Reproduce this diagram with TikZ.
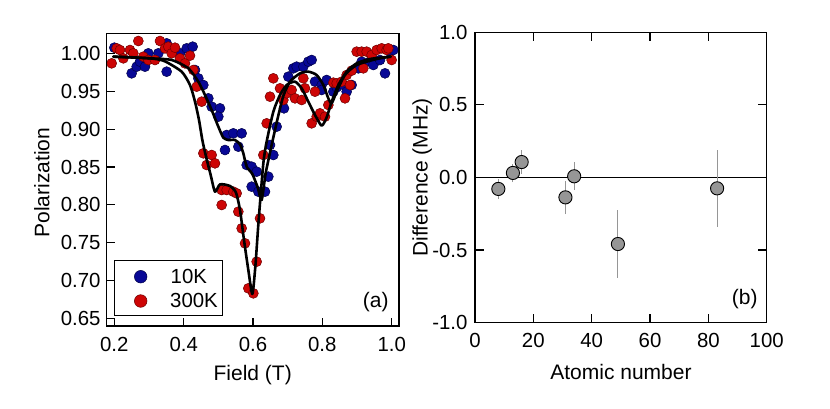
\documentclass[tikz,border=0pt]{standalone}
\usepackage{fontspec}
\setmainfont{Liberation Sans}
\definecolor{dotblue}{RGB}{8,8,150}
\definecolor{dotblueedge}{RGB}{0,0,70}
\definecolor{dotred}{RGB}{205,5,5}
\definecolor{dotrededge}{RGB}{110,0,0}
\definecolor{dotgray}{RGB}{150,150,150}
\begin{document}
\begin{tikzpicture}[x=1pt,y=-1pt,
  frame/.style={line width=1.1pt},
  tickline/.style={line width=1.1pt},
  lab/.style={font=\fontsize{20.4}{24}\selectfont, inner sep=0pt},
  axlab/.style={font=\fontsize{21}{25}\selectfont, inner sep=0pt},
  fitline/.style={line width=2.6pt, line join=round, line cap=round},
  bdot/.style={fill=dotblue, draw=dotblueedge, line width=0.5pt},
  rdot/.style={fill=dotred, draw=dotrededge, line width=0.5pt},
  gdot/.style={fill=dotgray, draw=black, line width=0.9pt},
  ebar/.style={draw=dotgray, line width=1pt}]
\useasboundingbox (0,0) rectangle (830,408);

% ---------------- panel (a) ----------------
\begin{scope}[x=0.333333pt,y=-0.333333pt]
\foreach \a/\b in {343/143, 395/220, 410/200, 420/185, 435/200, 445/160, 475/160, 500/215, 500/130, 520/150, 540/160, 560/145, 578/140, 585/210, 595/235, 610/255, 625/295, 635/320, 660/325, 655/350, 675/450, 680/405, 700/400, 725/400, 715/440, 740/495, 755/500, 770/515, 755/560, 775/575, 795/575, 805/530, 810/435, 820/465, 830/380, 852/325, 865/230, 880/205, 890/200, 910/200, 925/185, 935/180, 945/245, 965/255, 980/240, 965/270, 1000/275, 1010/262, 1030/255, 1040/275, 1055/255, 1075/205, 1085/185, 1110/185, 1120/195, 1140/180, 1155/220, 1170/155, 1180/150}
  \draw[bdot] (\a,\b) circle[radius=5pt];
\foreach \a/\b in {335/190, 350/145, 360/150, 370/175, 390/150, 400/160, 415/123, 430/170, 445/180, 465/180, 480/123, 495/145, 505/140, 515/160, 525/143, 540/175, 555/190, 570/167, 580/210, 590/260, 605/305, 610/460, 620/495, 635/465, 645/490, 665/570, 665/615, 680/570, 700/575, 710/580, 715/635, 725/685, 735/730, 745/865, 760/880, 770/785, 780/655, 790/465, 800/370, 810/290, 820/235, 840/265, 850/300, 860/280, 875/270, 885/295, 905/300, 910/235, 915/265, 935/370, 945/275, 950/350, 960/340, 975/350, 985/315, 1000/248, 1010/250, 1025/245, 1035/295, 1040/225, 1050/255, 1055/212, 1070/155, 1085/155, 1090/205, 1100/155, 1115/165, 1130/150, 1145/145, 1160/150, 1165/145, 1175/180}
  \draw[rdot] (\a,\b) circle[radius=5pt];
% fit 300K
\draw[fitline] plot[smooth,tension=0.4] coordinates {(340,170) (400,172) (460,176) (495,184) (545,215) (570,255) (585,305) (597,360) (607,420) (617,465) (632,525) (645,575) (660,553) (690,558) (708,578) (720,630) (732,720) (745,810) (757,882) (766,800) (776,660) (790,490) (800,425) (820,335) (840,285) (860,255) (885,245) (905,265) (925,305) (945,345) (965,377) (980,352) (995,305) (1015,255) (1040,215) (1070,190) (1110,177) (1172,170)};
% fit 10K
\draw[fitline] plot[smooth,tension=0.4] coordinates {(340,170) (450,175) (515,180) (565,205) (595,245) (615,285) (635,330) (655,380) (670,413) (685,420) (705,420) (720,433) (730,460) (740,500) (757,522) (773,562) (785,600) (797,520) (815,435) (833,355) (850,288) (870,245) (900,220) (925,215) (950,225) (970,255) (985,295) (995,310) (1010,275) (1035,225) (1070,195) (1130,177) (1172,170)};
\end{scope}

\draw[frame] (106.7,33.3) rectangle (399,326);
\foreach \x/\t in {114.3/0.2, 183.7/0.4, 253/0.6, 322.3/0.8, 391.7/1.0}{
  \draw[tickline] (\x,326) -- (\x,318);
  \node[lab,anchor=north] at (\x,336.7) {\t};
}
\foreach \y/\t in {53.3/1.00, 91.2/0.95, 129.1/0.90, 167/0.85, 204.9/0.80, 242.8/0.75, 280.7/0.70, 318.6/0.65}{
  \draw[tickline] (106.7,\y) -- (114.7,\y);
  \node[lab,anchor=east] at (100.7,\y) {\t};
}
% legend
\draw[line width=1pt, fill=white] (114,260.7) rectangle (222.7,315);
\draw[bdot] (140.7,276.7) circle[radius=6.3pt];
\draw[rdot] (140.7,301) circle[radius=6.3pt];
\node[lab,anchor=base west] (l1) at (170.5,283.5) {10K};
\node[lab,anchor=base west] (l2) at (170.0,307) {300K};
\node[axlab] (pa) at (375.8,301.7) {(a)};
\node[axlab,anchor=base] (xa) at (252.7,380) {Field (T)};
\node[axlab,rotate=90,anchor=base] (ya) at (49.3,182.8) {Polarization};

% ---------------- panel (b) ----------------
\draw[line width=1pt] (475,177.3) -- (766.7,177.3);
\begin{scope}[shift={(475pt,-177.3pt)}, x=2.917pt, y=145.35pt]
\foreach \z/\v/\e in {8/-0.08/0.07, 13/0.03/0.063, 16/0.105/0.08, 31/-0.138/0.115, 34/0.007/0.095, 49/-0.459/0.233, 83/-0.076/0.264}
  \draw[ebar] (\z,\v-\e) -- (\z,\v+\e);
\foreach \z/\v in {8/-0.08, 13/0.03, 16/0.105, 31/-0.138, 34/0.007, 49/-0.459, 83/-0.076}
  \draw[gdot] (\z,\v) circle[radius=6.6pt];
\end{scope}
\draw[frame] (475,32.3) rectangle (766.7,322.7);
\foreach \x in {533.3, 591.7, 650, 708.4}{
  \draw[tickline] (\x,32.3) -- (\x,40.8);
  \draw[tickline] (\x,322.7) -- (\x,314.2);
}
\foreach \y in {104.6, 250}{
  \draw[tickline] (475,\y) -- (483.5,\y);
  \draw[tickline] (766.7,\y) -- (758.2,\y);
}
\foreach \x/\t in {475/0, 533.3/20, 591.7/40, 650/60, 708.4/80, 766.7/100}
  \node[lab,anchor=north] at (\x,333) {\t};
\foreach \y/\t in {32.3/1.0, 104.6/0.5, 177.3/0.0, 250/-0.5, 322.7/-1.0}
  \node[lab,anchor=east] at (467.7,\y) {\t};
\node[axlab] (pb) at (744.8,299.2) {(b)};
\node[axlab,anchor=base] (xb) at (621,379.3) {Atomic number};
\node[axlab,rotate=90,anchor=base] (yb) at (427.7,177.3) {Difference (MHz)};
\end{tikzpicture}
\end{document}
